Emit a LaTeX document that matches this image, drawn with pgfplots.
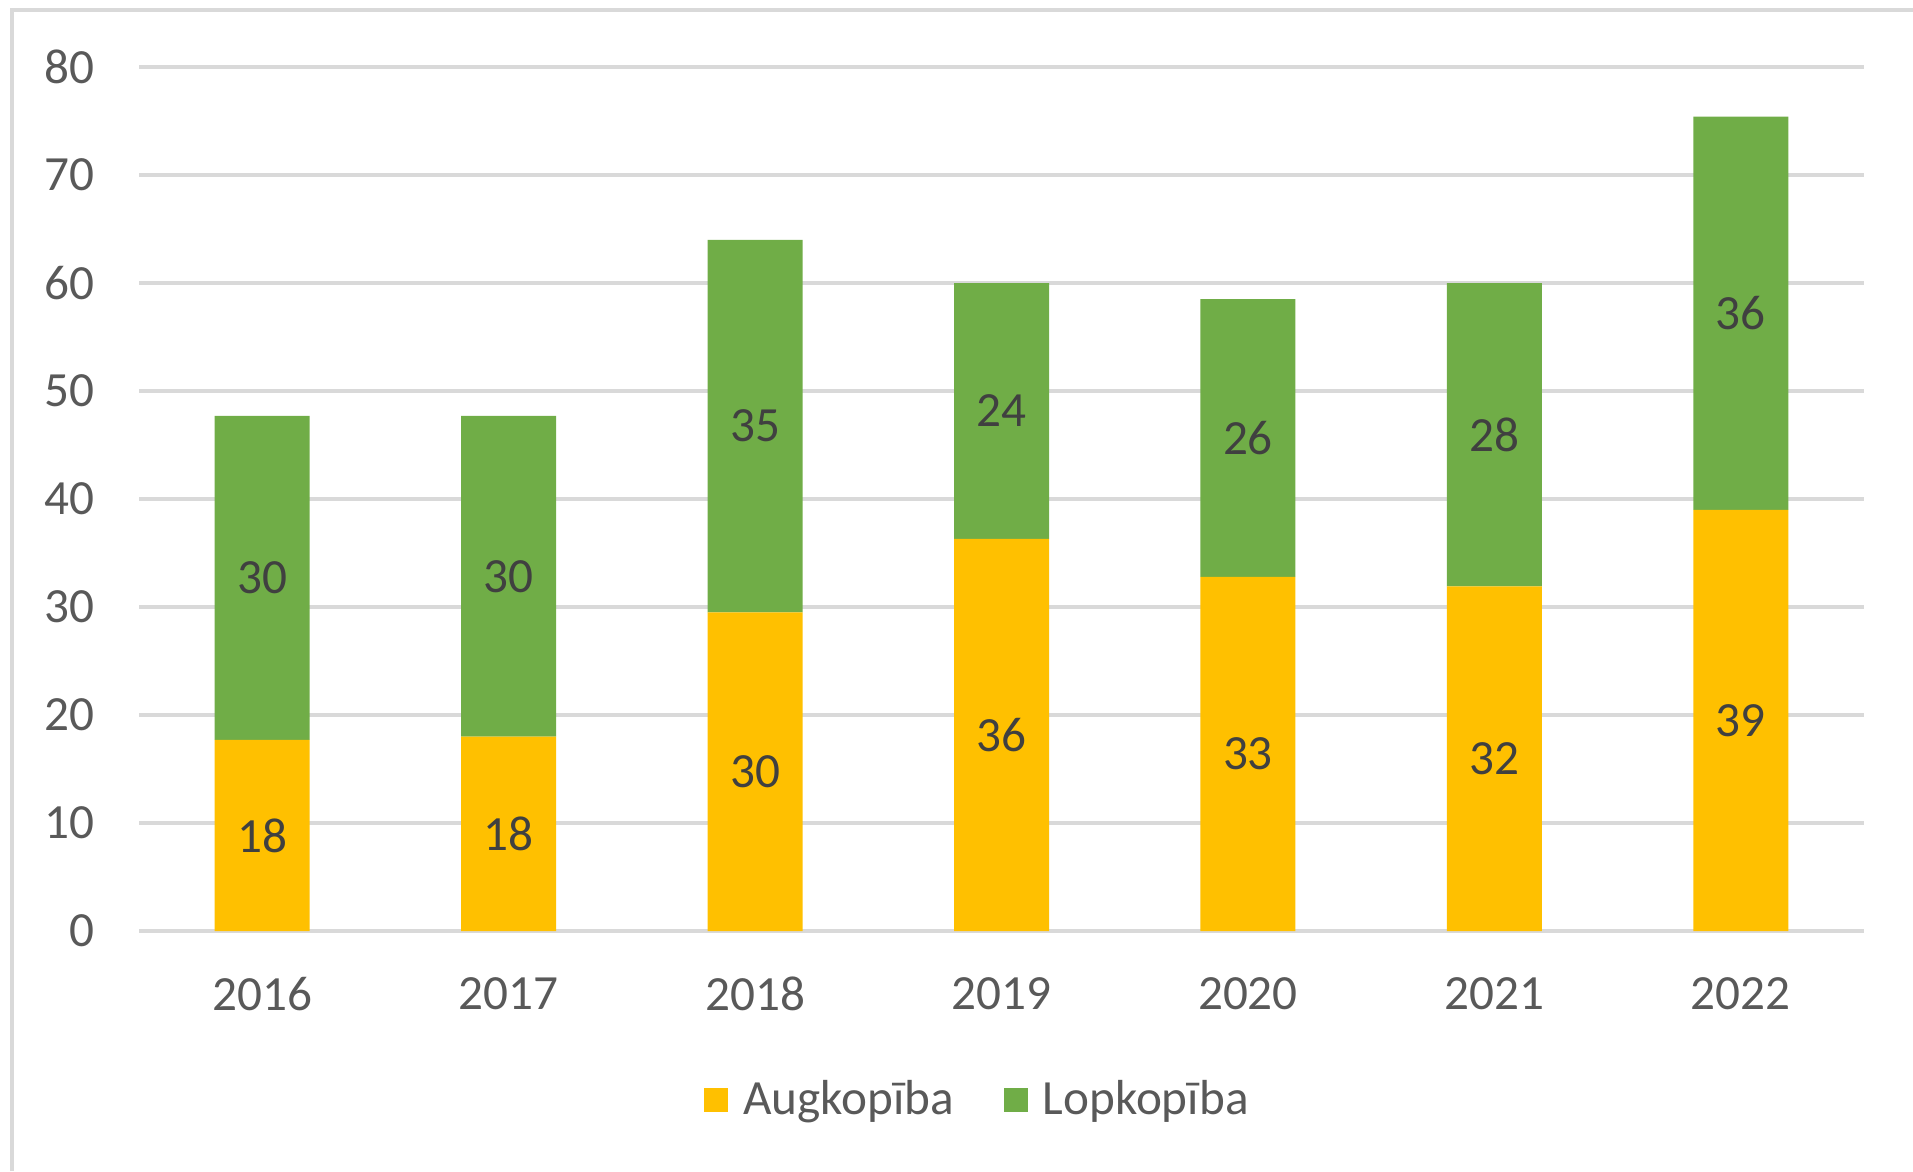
\documentclass[border=0pt]{standalone}
\usepackage{pgfplots}
\pgfplotsset{compat=1.18}
\usepackage{fontspec}
\setmainfont{Carlito}
\definecolor{augc}{HTML}{FFC000}
\definecolor{lopc}{HTML}{70AD47}
\definecolor{gridc}{HTML}{D9D9D9}
\definecolor{txtc}{HTML}{595959}
\definecolor{lblc}{HTML}{404040}
\pgfplotstableread{
x aug lop
0 17.7 30.0
1 18.0 29.7
2 29.5 34.5
3 36.3 23.7
4 32.8 25.7
5 31.9 28.1
6 39.0 36.4
}\datatable
\begin{document}
\begin{tikzpicture}
\useasboundingbox (0,0) rectangle (191.3mm,117.1mm);
\draw[gridc, line width=0.4mm] (1.2mm,0) -- (1.2mm,116.1mm) -- (191.3mm,116.1mm);
\begin{axis}[
  at={(13.9mm,24.0mm)}, anchor=south west,
  scale only axis, width=172.5mm, height=86.4mm,
  xmin=-0.5, xmax=6.5, ymin=0, ymax=80,
  ybar stacked, bar width=9.5mm,
  xtick={0,1,2,3,4,5,6},
  xticklabels={2016,2017,2018,2019,2020,2021,2022},
  ytick={0,10,...,80},
  ymajorgrids, grid style={gridc, line width=0.4mm},
  axis line style={draw=none},
  major tick length=0,
  tick label style={font=\fontsize{14}{16}\selectfont, text=txtc, inner sep=0pt},
  /pgf/number format/assume math mode=true,
  xticklabel style={anchor=center, yshift=-6.3mm},
  yticklabel style={anchor=east, xshift=-4.4mm},
  legend columns=2,
  legend style={draw=none, fill=none, at={(0.487,0)}, anchor=center, yshift=-16.9mm,
    font=\fontsize{14}{16}\selectfont, text=txtc,
    /tikz/every even column/.append style={column sep=4.4mm},
    /tikz/every odd column/.append style={column sep=1.0mm},
    nodes={inner sep=1.5pt}},
  legend image code/.code={\fill[#1] (0mm,-1.2mm) rectangle (2.4mm,1.2mm);},
]
\addplot[fill=augc, draw=none] table[x=x, y=aug] {\datatable};
\addlegendentry{Augkopība}
\addplot[fill=lopc, draw=none] table[x=x, y=lop] {\datatable};
\addlegendentry{Lopkopība}
\end{axis}
\begin{axis}[
  at={(13.9mm,24.0mm)}, anchor=south west,
  scale only axis, width=172.5mm, height=86.4mm,
  xmin=-0.5, xmax=6.5, ymin=0, ymax=80,
  hide axis,
]
\addplot[only marks, mark=none, nodes near coords, point meta=explicit symbolic,
  nodes near coords align={center},
  every node near coord/.append style={font=\fontsize{14}{16}\selectfont, text=lblc}]
coordinates {
  (0,8.85) [18] (0,32.7) [30]
  (1,9.0) [18] (1,32.85) [30]
  (2,14.75) [30] (2,46.75) [35]
  (3,18.15) [36] (3,48.15) [24]
  (4,16.4) [33] (4,45.65) [26]
  (5,15.95) [32] (5,45.95) [28]
  (6,19.5) [39] (6,57.2) [36]
};
\end{axis}
\end{tikzpicture}
\end{document}
